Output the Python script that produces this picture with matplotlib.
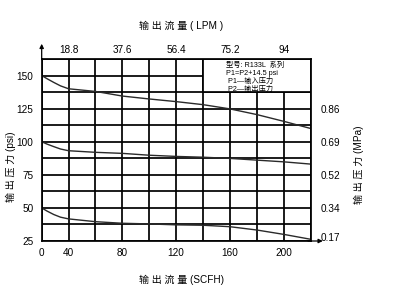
import numpy as np
import matplotlib
matplotlib.use('Agg')
import matplotlib.pyplot as plt
from matplotlib.patches import Rectangle

FONTS = ['Liberation Sans Narrow', 'Liberation Sans', 'Noto Sans CJK SC', 'DejaVu Sans']
plt.rcParams['font.family'] = FONTS

# x in grid units (one grid cell per step); labels sit on chosen grid lines
scfh_pos = [0, 1, 3, 5, 7, 9]
scfh_lab = ['0', '40', '80', '120', '160', '200']
lpm_pos = [1, 3, 5, 7, 9]
lpm_lab = ['18.8', '37.6', '56.4', '75.2', '94']
psi_ticks = [25, 50, 75, 100, 125, 150]
mpa_pos = [125, 100, 75, 50, 28]
mpa_lab = ['0.86', '0.69', '0.52', '0.34', '0.17']

flow = [0, 0.2, 0.45, 0.7, 1, 2, 3, 4, 5, 6, 7, 8, 9, 10]
p150 = [150, 147.6, 144.8, 142.2, 140, 138, 134.5, 132.3, 130.3, 128, 124.8, 120.5, 115.4, 110]
p100 = [100, 98.2, 96.3, 94.5, 93.2, 92, 91.2, 89.8, 88.9, 88.3, 87.4, 86.1, 84.8, 83.1]
p50 = [50, 47.6, 45.0, 43.0, 41.7, 39.6, 38.4, 37.9, 37.2, 36.9, 35.8, 33.3, 30.0, 26.3]

note = ['型号: R133L  系列', 'P1=P2+14.5 psi', ' P1—输入压力', ' P2—输出压力']

fig = plt.figure(figsize=(3.97, 3.06), dpi=100)
ax = fig.add_axes([0.105, 0.2124, 0.6776, 0.5948])
ax.set_xlim(0, 10)
ax.set_ylim(25, 162.5)

ax.set_xticks(np.arange(0, 11), minor=True)
ax.set_yticks(np.arange(25, 163, 12.5), minor=True)
ax.set_xticks(scfh_pos)
ax.set_xticklabels(scfh_lab)
ax.set_yticks(psi_ticks)
ax.grid(True, which='both', color='black', lw=1.25)
ax.set_axisbelow(True)
ax.tick_params(which='both', length=0, labelsize=7.2)
ax.tick_params(axis='y', pad=6)
ax.tick_params(axis='x', pad=5)
for s in ax.spines.values():
    s.set_linewidth(1.25)

# note box covers the grid in the upper right
ax.add_patch(Rectangle((6, 137.5), 4, 25, facecolor='white', edgecolor='black',
                       lw=1.25, zorder=1))
for i, t in enumerate(note):
    ax.text(6.85, 160.5 - i * 6.2, t, fontsize=5.2, va='top', ha='left', zorder=3)

for p in (p150, p100, p50):
    ax.plot(flow, p, color='#2a2a2a', lw=1.0, zorder=2)

# axis arrows
ax.annotate('', xy=(0, 174), xytext=(0, 162), annotation_clip=False,
            arrowprops=dict(arrowstyle='-|>', color='black', lw=0.9,
                            mutation_scale=6, shrinkA=0, shrinkB=0))
ax.annotate('', xy=(10.45, 25), xytext=(9.9, 25), annotation_clip=False,
            arrowprops=dict(arrowstyle='-|>', color='black', lw=0.9,
                            mutation_scale=6, shrinkA=0, shrinkB=0))

top = ax.secondary_xaxis('top')
top.set_xticks(lpm_pos)
top.set_xticklabels(lpm_lab)
top.tick_params(length=0, labelsize=7.2, pad=3)
top.spines['top'].set_visible(False)

right = ax.twinx()
right.set_ylim(ax.get_ylim())
right.set_yticks(mpa_pos)
right.set_yticklabels(mpa_lab)
right.tick_params(length=0, labelsize=7.2, pad=7)
for s in right.spines.values():
    s.set_visible(False)

lab = dict(fontsize=7.2)
fig.text(0.456, 0.915, '输 出 流 量 ( LPM )', ha='center', va='center', **lab)
fig.text(0.456, 0.085, '输 出 流 量 (SCFH)', ha='center', va='center', **lab)
fig.text(0.027, 0.455, '输 出 压 力 (psi)', ha='center', va='center', rotation=90, **lab)
fig.text(0.905, 0.46, '输 出 压 力 (MPa)', ha='center', va='center', rotation=90, **lab)

fig.savefig('out.png', dpi=100)
